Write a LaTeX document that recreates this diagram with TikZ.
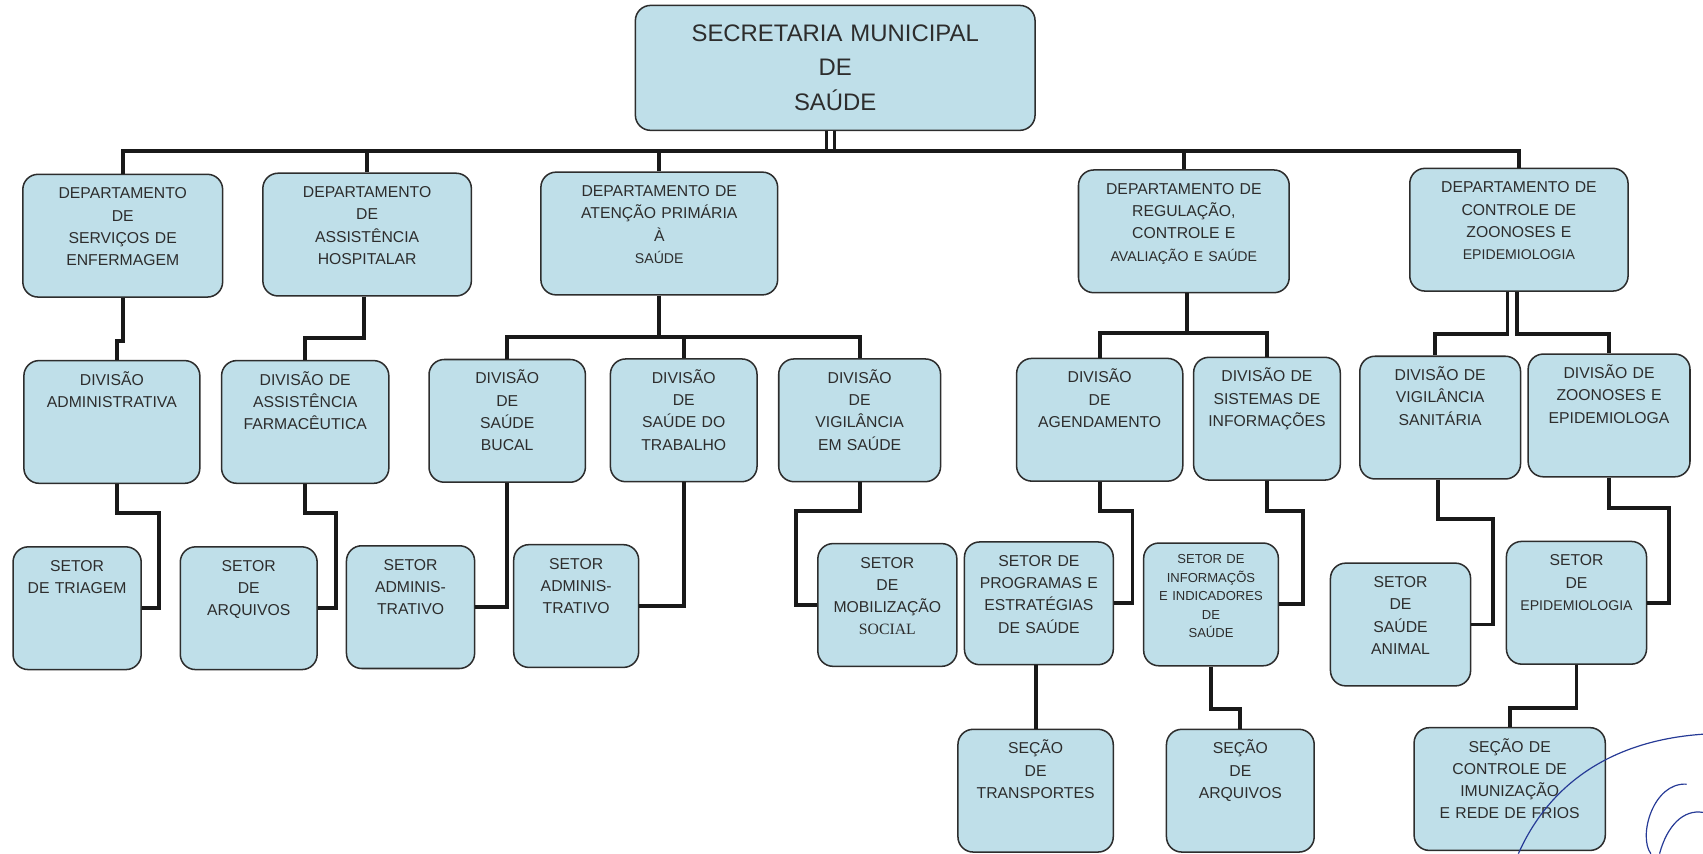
\documentclass[tikz,border=0pt]{standalone}
\usepackage{fontspec}
\setmainfont{Liberation Sans}
\newfontfamily\socialfont{Liberation Serif}
\usepackage{tikz}
\usetikzlibrary{positioning}
\definecolor{unitfill}{RGB}{191,223,233}
\definecolor{unitink}{RGB}{45,45,45}
\definecolor{signink}{RGB}{38,58,150}
\newcommand\minor[1]{{\fontsize{13}{17}\selectfont #1}}

\begin{document}
\begin{tikzpicture}[x=1pt, y=1pt, on grid,
    unit/.style={draw=unitink, line width=1.4pt, fill=unitfill, rounded corners=14pt,
      inner sep=0pt, align=center, text width=#1, text height=22.5pt, text depth=90.5pt,
      text=unitink, font=\fontsize{14.5}{20.5}\selectfont},
    link/.style={line width=3.6pt, draw=black!90},
    twin/.style={double=white, double distance=4.5pt, line width=2.6pt, draw=black!90},
    sign/.style={line width=1.1pt, draw=signink}]
		\useasboundingbox (0,0) rectangle (1568,-786);
		\node[unit=368pt, text height=33.5pt, text depth=81.5pt, font=\fontsize{22}{31.4}\selectfont] (sec) at (769,-62.5) {SECRETARIA MUNICIPAL\\DE\\SAÚDE};
		\node[unit=184pt] (enf)  [below left=154.5pt and 656pt of sec] {DEPARTAMENTO\\DE\\SERVIÇOS DE\\ENFERMAGEM};
		\node[unit=192pt] (hosp) [below left=153.5pt and 431pt of sec] {DEPARTAMENTO\\DE\\ASSISTÊNCIA\\HOSPITALAR};
		\node[unit=218pt] (aps)  [below left=152.5pt and 162pt of sec] {DEPARTAMENTO DE\\ATENÇÃO PRIMÁRIA\\À\\\minor{SAÚDE}};
		\node[unit=194pt] (reg)  [below right=150.5pt and 321pt of sec] {DEPARTAMENTO DE\\REGULAÇÃO,\\CONTROLE E\\\minor{AVALIAÇÃO E SAÚDE}};
		\node[unit=201pt] (zoo)  [below right=149pt and 629.5pt of sec] {DEPARTAMENTO DE\\CONTROLE DE\\ZOONOSES E\\\minor{EPIDEMIOLOGIA}};
		\node[unit=162pt] (adm)    [below left=171.5pt and 10pt of enf] {DIVISÃO\\ADMINISTRATIVA};
		\node[unit=154pt] (farm)   [below left=172.5pt and 57pt of hosp] {DIVISÃO DE\\ASSISTÊNCIA\\FARMACÊUTICA};
		\node[unit=144pt] (bucal)  [below left=172.5pt and 140pt of aps] {DIVISÃO\\DE\\SAÚDE\\BUCAL};
		\node[unit=135pt] (trab)   [below right=172pt and 22.5pt of aps] {DIVISÃO\\DE\\SAÚDE DO\\TRABALHO};
		\node[unit=149pt] (vig)    [below right=172pt and 184.5pt of aps] {DIVISÃO\\DE\\VIGILÂNCIA\\EM SAÚDE};
		\node[unit=153pt] (agend)  [below left=173.5pt and 77.5pt of reg] {DIVISÃO\\DE\\AGENDAMENTO};
		\node[unit=135pt] (sist)   [below right=172.5pt and 76.5pt of reg] {DIVISÃO DE\\SISTEMAS DE\\INFORMAÇÕES};
		\node[unit=148pt] (vigsan) [below left=173pt and 72.5pt of zoo] {DIVISÃO DE\\VIGILÂNCIA\\SANITÁRIA};
		\node[unit=149pt] (zooep)  [below right=171pt and 83pt of zoo] {DIVISÃO DE\\ZOONOSES E\\EPIDEMIOLOGA};
		\node[unit=118pt] (triagem) [below left=171.5pt and 32pt of adm] {SETOR\\DE TRIAGEM};
		\node[unit=126pt] (arqs)    [below left=171.5pt and 52pt of farm] {SETOR\\DE\\ARQUIVOS};
		\node[unit=118pt] (adm1)    [below left=171.5pt and 89pt of bucal] {SETOR\\ADMINIS-\\TRATIVO};
		\node[unit=115pt] (adm2)    [below left=171pt and 99pt of trab] {SETOR\\ADMINIS-\\TRATIVO};
		\node[unit=128pt] (mobil)   [below right=170pt and 25.5pt of vig] {SETOR\\DE\\MOBILIZAÇÃO\\{\socialfont SOCIAL}};
		\node[unit=137pt] (prog)    [below left=169pt and 56pt of agend] {SETOR DE\\PROGRAMAS E\\ESTRATÉGIAS\\DE SAÚDE};
		\node[unit=124pt, text height=19pt, text depth=94pt, font=\fontsize{12}{17}\selectfont] (inf) [below left=171pt and 51.5pt of sist] {SETOR DE\\INFORMAÇÕS\\E INDICADORES\\DE\\SAÚDE};
		\node[unit=129pt] (animal)  [below left=190.5pt and 36.5pt of vigsan] {SETOR\\DE\\SAÚDE\\ANIMAL};
		\node[unit=129pt] (epid)    [below left=172.5pt and 30pt of zooep] {SETOR\\DE\\\minor{EPIDEMIOLOGIA}};
		\node[unit=143pt] (transp) [below left=172.5pt and 3pt of prog] {SEÇÃO\\DE\\TRANSPORTES};
		\node[unit=136pt] (secarq) [below right=171.5pt and 27pt of inf] {SEÇÃO\\DE\\ARQUIVOS};
		\node[unit=176pt] (imun)   [below left=171.5pt and 61.5pt of epid] {SEÇÃO DE\\CONTROLE DE\\IMUNIZAÇÃO\\E REDE DE FRIOS};
		\coordinate[below=76.5pt of sec] (bus);
		\draw[twin] ([xshift=-4.5pt]sec.south) -- ([xshift=-4.5pt]sec.south |- bus);
		\draw[link] (enf.north) |- (bus) -| (zoo.north);
		\foreach \dep in {hosp, aps, reg}
			\draw[link] (\dep.north) -- (\dep.north |- bus);
		\draw[link] (enf.south) -- ++(0,-40) -| ([xshift=5pt]adm.north);
		\draw[link] ([xshift=-3pt]hosp.south) -- ++(0,-38) -| (farm.north);
		\draw[link] (aps.south) -- ++(0,-38.5) coordinate (apsbus);
		\draw[link] (bucal.north) |- (apsbus) -| (vig.north);
		\draw[link] (trab.north) -- (trab.north |- apsbus);
		\draw[link] ([xshift=3pt]reg.south) -- ++(0,-36.5) coordinate (regbus);
		\draw[link] (agend.north) |- (regbus) -| (sist.north);
		\draw[link] ([xshift=-10.5pt]zoo.south) -- ++(0,-39) -| ([xshift=-5pt]vigsan.north);
		\draw[link] ([xshift=-1.5pt]zoo.south) -- ++(0,-39) -| (zooep.north);
		\draw[link] ([xshift=5pt]adm.south) -- ++(0,-27) -| ([xshift=16pt]triagem.east) -- (triagem.east);
		\draw[link] (farm.south) -- ++(0,-27) -| ([xshift=17pt]arqs.east) -- (arqs.east);
		\draw[link] (bucal.south) |- (adm1.east);
		\draw[link] (trab.south) |- (adm2.east);
		\draw[link] (vig.south) -- ++(0,-26.5) -| ([xshift=-19pt]mobil.west) -- (mobil.west);
		\draw[link] (agend.south) -- ++(0,-27) -| ([xshift=17pt]prog.east) -- (prog.east);
		\draw[link] (sist.south) -- ++(0,-28) -| ([xshift=22pt]inf.east) -- (inf.east);
		\draw[link] ([xshift=-2pt]vigsan.south) -- ++(0,-36) -| ([xshift=20pt]animal.east) -- (animal.east);
		\draw[link] (zooep.south) -- ++(0,-28) -| ([xshift=20pt]epid.east) -- (epid.east);
		\draw[link] (transp.north |- prog.south) -- (transp.north);
		\draw[link] (inf.south) -- ++(0,-39) -| (secarq.north);
		\draw[link] (epid.south) -- ++(0,-40) -| (imun.north);
		\draw[sign] (1398,-786) .. controls (1425,-725) and (1480,-682) .. (1568,-676);
		\draw[sign] (1553,-722) .. controls (1522,-720) and (1508,-770) .. (1520,-786);
		\draw[sign] (1528,-786) .. controls (1535,-760) and (1550,-745) .. (1568,-748);
\end{tikzpicture}
\end{document}
